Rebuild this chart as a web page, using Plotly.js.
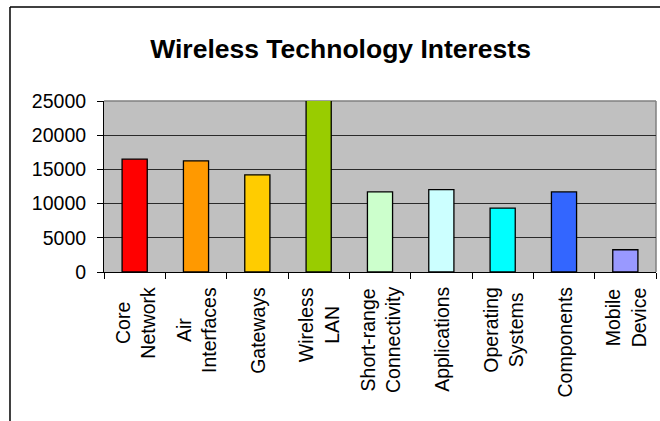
<!DOCTYPE html>
<html>
<head>
<meta charset="utf-8">
<script src="https://cdn.plot.ly/plotly-3.0.1.min.js"></script>
<style>html,body{margin:0;padding:0;background:#fff;}#chart{width:660px;height:421px;}</style>
</head>
<body>
<div id="chart"></div>
<script>
const categories = ["Core Network", "Air Interfaces", "Gateways", "Wireless LAN", "Short-range Connectivity", "Applications", "Operating Systems", "Components", "Mobile Device"];
const tickLabels = ["Core<br>Network", "Air<br>Interfaces", "Gateways", "Wireless<br>LAN", "Short-range<br>Connectivity", "Applications", "Operating<br>Systems", "Components", "Mobile<br>Device"];
const interests = [16500, 16250, 14200, 25300, 11700, 12050, 9350, 11700, 3250];
const barColors = ["#FF0000", "#FF9900", "#FFCC00", "#99CC00", "#CCFFCC", "#CCFFFF", "#00FFFF", "#3366FF", "#9999FF"];
const yTicks = [0, 5000, 10000, 15000, 20000, 25000];

const font = "'Liberation Sans', Arial, sans-serif";

const trace = {
  type: "bar",
  x: categories,
  y: interests,
  marker: {color: barColors, line: {color: "#000000", width: 1.3}},
  cliponaxis: false,
  hoverinfo: "x+y"
};

const labelAnnotations = categories.map((c, i) => ({
  x: c, xref: "x",
  y: 0, yref: "paper",
  yshift: -14,
  text: tickLabels[i],
  textangle: -90,
  showarrow: false,
  xanchor: "center", yanchor: "top",
  align: "center",
  borderpad: 0,
  font: {family: font, size: 19.5, color: "#000"}
}));

const layout = {
  width: 660, height: 421,
  margin: {l: 104, r: 4, t: 101, b: 149},
  paper_bgcolor: "#ffffff",
  plot_bgcolor: "#C0C0C0",
  bargap: 0.59,
  showlegend: false,
  title: {text: "<b>Wireless Technology Interests</b>", font: {family: font, size: 26.5, color: "#000"}, x: 0.516, xref: "container", xanchor: "center", y: 0.885, yref: "container", yanchor: "middle"},
  xaxis: {
    type: "category",
    range: [-0.5, 8.5],
    tickson: "boundaries",
    ticks: "outside", ticklen: 6, tickcolor: "#000", tickwidth: 1,
    showline: true, linecolor: "#000", linewidth: 1,
    showgrid: false,
    showticklabels: false,
    fixedrange: true
  },
  yaxis: {
    range: [0, 25000],
    tickvals: yTicks,
    ticktext: yTicks.map(String),
    ticks: "outside", ticklen: 6, tickcolor: "#000", tickwidth: 1,
    showline: true, linecolor: "#000", linewidth: 1,
    showgrid: true, gridcolor: "#2a2a2a", gridwidth: 1,
    zeroline: false,
    tickfont: {family: font, size: 19.5, color: "#000"},
    ticklabelstandoff: 7,
    fixedrange: true
  },
  annotations: labelAnnotations,
  shapes: [
    {type: "line", xref: "paper", yref: "paper", x0: 0, x1: 1, y0: 1, y1: 1, line: {color: "#808080", width: 1.5}, layer: "below"},
    {type: "line", xref: "paper", yref: "paper", x0: 1, x1: 1, y0: 0, y1: 1, line: {color: "#808080", width: 1.5}, layer: "below"},
    {type: "line", xref: "paper", yref: "paper", x0: -0.1703, x1: 1.2, y0: 1.5497, y1: 1.5497, line: {color: "#000", width: 1.5}},
    {type: "line", xref: "paper", yref: "paper", x0: -0.1703, x1: -0.1703, y0: -1, y1: 1.5497, line: {color: "#000", width: 1.5}}
  ]
};

Plotly.newPlot("chart", [trace], layout, {displayModeBar: false, staticPlot: true});
</script>
</body>
</html>
